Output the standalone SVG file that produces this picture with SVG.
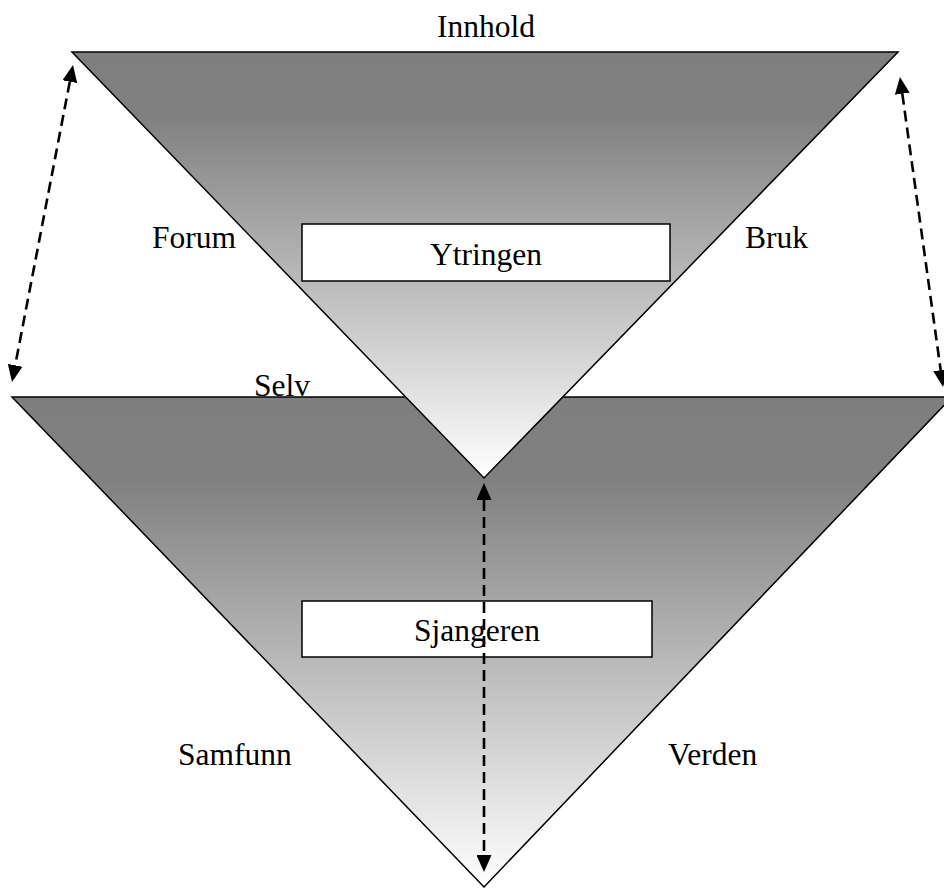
<svg xmlns="http://www.w3.org/2000/svg" width="944" height="888" viewBox="0 0 944 888">
<defs>
<linearGradient id="gTop" x1="0" y1="52" x2="0" y2="478" gradientUnits="userSpaceOnUse">
<stop offset="0" stop-color="#7f7f7f"/>
<stop offset="0.15" stop-color="#808080"/>
<stop offset="1" stop-color="#ffffff"/>
</linearGradient>
<linearGradient id="gBot" x1="0" y1="397" x2="0" y2="887" gradientUnits="userSpaceOnUse">
<stop offset="0" stop-color="#7f7f7f"/>
<stop offset="0.17" stop-color="#808080"/>
<stop offset="1" stop-color="#ffffff"/>
</linearGradient>
<marker id="ah" viewBox="0 0 17 15" refX="0" refY="7.5" markerWidth="17" markerHeight="15" markerUnits="userSpaceOnUse" orient="auto-start-reverse">
<path d="M0,0 L17,7.5 L0,15 z" fill="#000"/>
</marker>
</defs>
<style>
.t{font-family:"Liberation Serif","Times New Roman",serif;font-size:31.5px;fill:#000}
.tri{stroke:#000;stroke-width:1.5}
.box{fill:#fff;stroke:#000;stroke-width:1.5}
.dash{fill:none;stroke:#000;stroke-width:2.6;stroke-dasharray:11 6}
</style>
<g id="labels-back">
<text class="t" x="254" y="396">Selv</text>
</g>
<g id="node-genre-triangle">
<polygon class="tri" points="12,397 952,397 484,887" fill="url(#gBot)"/>
</g>
<g id="node-utterance-triangle">
<polygon class="tri" points="72,52 898,52 484,478" fill="url(#gTop)"/>
</g>
<g id="node-ytringen">
<rect class="box" x="302" y="224" width="368" height="57"/>
<text class="t" x="486" y="265" text-anchor="middle">Ytringen</text>
</g>
<g id="node-sjangeren">
<rect class="box" x="302" y="601" width="350" height="56"/>
<text class="t" x="477" y="641" text-anchor="middle">Sjangeren</text>
</g>
<g id="labels">
<text class="t" x="486" y="37" text-anchor="middle">Innhold</text>
<text class="t" x="152" y="248">Forum</text>
<text class="t" x="745" y="248">Bruk</text>
<text class="t" x="178" y="765">Samfunn</text>
<text class="t" x="668" y="765">Verden</text>
</g>
<g id="connectors">
<line class="dash" x1="69.8" y1="81.7" x2="15.2" y2="365.3" marker-start="url(#ah)" marker-end="url(#ah)"/>
<line class="dash" x1="902.3" y1="93.8" x2="940.7" y2="370.2" marker-start="url(#ah)" marker-end="url(#ah)"/>
<line class="dash" x1="484" y1="500" x2="484" y2="855" marker-start="url(#ah)" marker-end="url(#ah)"/>
</g>
</svg>
